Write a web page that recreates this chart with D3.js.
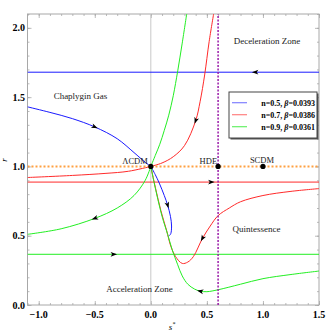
<!DOCTYPE html>
<html>
<head>
<meta charset="utf-8">
<script src="https://cdnjs.cloudflare.com/ajax/libs/d3/7.8.5/d3.min.js"></script>
<style>
  body { margin: 0; background: #fff; }
  svg text { font-family: "Liberation Serif", "Times New Roman", serif; }
</style>
</head>
<body>
<div id="chart"></div>
<script>
// data (s*, r)
var blueUpper = [[-1.1,1.43],[-0.9,1.39],[-0.7,1.345],[-0.5,1.285],[-0.3,1.20],[-0.15,1.10],[-0.05,1.03],[0,1.0]];
var blueLower = [[0,1.0],[0.04,0.94],[0.075,0.88],[0.12,0.79],[0.15,0.72],[0.175,0.64],[0.185,0.57],[0.178,0.515],[0.165,0.50]];
var redLeft = [[-1.1,0.92],[-0.7,0.935],[-0.4,0.95],[-0.2,0.965],[0,1.0]];
var redUpper = [[0,1.0],[0.1,1.025],[0.2,1.07],[0.3,1.15],[0.4,1.33],[0.44,1.47],[0.48,1.66],[0.52,1.9],[0.56,2.1]];
var redLower = [[0,1.0],[0.04,0.85],[0.09,0.68],[0.14,0.54],[0.18,0.42],[0.22,0.35],[0.28,0.30],[0.33,0.31],[0.38,0.35],[0.46,0.48],[0.53,0.57],[0.6,0.645],[0.7,0.70],[0.8,0.745],[1.0,0.79],[1.25,0.82],[1.5,0.84]];
var greenLeft = [[-1.1,0.51],[-0.8,0.55],[-0.5,0.625],[-0.3,0.70],[-0.15,0.79],[-0.05,0.90],[0,1.0]];
var greenUpper = [[0,1.0],[0.04,1.08],[0.08,1.16],[0.12,1.26],[0.16,1.37],[0.2,1.51],[0.24,1.69],[0.28,1.89],[0.32,2.1]];
var greenLower = [[0,1.0],[0.03,0.88],[0.1,0.64],[0.15,0.51],[0.19,0.40],[0.24,0.29],[0.28,0.21],[0.33,0.15],[0.39,0.115],[0.44,0.10],[0.5,0.096],[0.6,0.11],[0.8,0.15],[1.0,0.19],[1.25,0.22],[1.5,0.245]];
var fixedR = [1.68, 0.887, 0.366]; // horizontal lines for blue, red, green

// arrows: [curve, index of point the head sits at, direction (+1 along list, -1 back)]
var arrowsOn = [
  ["blueUpper", 3, 1], ["blueLower", 4, 1],
  ["redUpper", 4, -1], ["redLower", 9, -1],
  ["greenLeft", 2, -1], ["greenLower", 9, -1]
];
var hArrows = [[0.93, 1.68, -1], [0.54, 0.887, 1], [-0.33, 0.366, 1]];

var points = [[0, 1, "ΛCDM"], [0.6, 1, "HDE"], [1.0, 1, "SCDM"]];
var legendRows = [["n=0.5, ", "=0.0393"], ["n=0.7, ", "=0.0386"], ["n=0.9, ", "=0.0361"]];
var xTicks = [-1.0, -0.5, 0.0, 0.5, 1.0, 1.5];
var yTicks = [0.0, 0.5, 1.0, 1.5, 2.0];

var colors = { blue: "#1a1aff", red: "#ff2a2a", green: "#22ee22" };
var legendColors = ["#8080ff", "#ff8080", "#66f066"];

var W = 335, H = 333;
var x = d3.scaleLinear().domain([-1.1, 1.5]).range([27.5, 319]);
var y = d3.scaleLinear().domain([0, 2.1]).range([305, 14]);

var svg = d3.select("#chart").append("svg").attr("width", W).attr("height", H);

svg.append("defs").append("clipPath").attr("id", "clip")
  .append("rect").attr("x", x(-1.1)).attr("y", y(2.1))
  .attr("width", x(1.5) - x(-1.1)).attr("height", y(0) - y(2.1));

// frame + ticks
var frameCol = "#a8a8a8";
var minorX = d3.range(-1.1, 1.51, 0.1).map(function(v) { return Math.round(v * 10) / 10; });
var minorY = d3.range(0, 2.11, 0.1).map(function(v) { return Math.round(v * 10) / 10; });

svg.append("g").attr("transform", "translate(0," + y(0) + ")")
  .call(d3.axisTop(x).tickValues(minorX).tickSize(2).tickFormat(""));
svg.append("g").attr("transform", "translate(0," + y(0) + ")")
  .call(d3.axisTop(x).tickValues(xTicks).tickSize(4).tickFormat(""));
svg.append("g").attr("transform", "translate(0," + y(2.1) + ")")
  .call(d3.axisBottom(x).tickValues(minorX).tickSize(2).tickFormat(""));
svg.append("g").attr("transform", "translate(0," + y(2.1) + ")")
  .call(d3.axisBottom(x).tickValues(xTicks).tickSize(4).tickFormat(""));
svg.append("g").attr("transform", "translate(" + x(-1.1) + ",0)")
  .call(d3.axisRight(y).tickValues(minorY).tickSize(2).tickFormat(""));
svg.append("g").attr("transform", "translate(" + x(-1.1) + ",0)")
  .call(d3.axisRight(y).tickValues(yTicks).tickSize(4).tickFormat(""));
svg.append("g").attr("transform", "translate(" + x(1.5) + ",0)")
  .call(d3.axisLeft(y).tickValues(minorY).tickSize(2).tickFormat(""));
svg.append("g").attr("transform", "translate(" + x(1.5) + ",0)")
  .call(d3.axisLeft(y).tickValues(yTicks).tickSize(4).tickFormat(""));
svg.selectAll(".domain").remove();
svg.selectAll(".tick line").attr("stroke", frameCol).attr("stroke-width", 0.8);

svg.append("rect").attr("x", x(-1.1)).attr("y", y(2.1))
  .attr("width", x(1.5) - x(-1.1)).attr("height", y(0) - y(2.1))
  .attr("fill", "none").attr("stroke", frameCol).attr("stroke-width", 1);

// tick labels
svg.selectAll(".xl").data(xTicks).enter().append("text")
  .attr("x", function(d) { return x(d); }).attr("y", 318)
  .attr("text-anchor", "middle").attr("font-size", 10).attr("font-weight", "bold")
  .text(function(d) { return (d < 0 ? "\u2212" : "") + Math.abs(d).toFixed(1); });
svg.selectAll(".yl").data(yTicks).enter().append("text")
  .attr("x", 25).attr("y", function(d) { return y(d) + 3.5; })
  .attr("text-anchor", "end").attr("font-size", 10).attr("font-weight", "bold")
  .text(function(d) { return d.toFixed(1); });

// axis labels
svg.append("text").attr("transform", "translate(7,160) rotate(-90)")
  .attr("text-anchor", "middle").attr("font-size", 9).attr("font-style", "italic").text("r");
var sl = svg.append("text").attr("x", 172).attr("y", 330).attr("text-anchor", "middle")
  .attr("font-size", 9).attr("font-style", "italic");
sl.append("tspan").text("s");
sl.append("tspan").attr("dy", -4).attr("font-size", 6).text("*");

var plot = svg.append("g").attr("clip-path", "url(#clip)");

// x = 0 reference line
plot.append("line").attr("x1", x(0)).attr("x2", x(0)).attr("y1", y(0)).attr("y2", y(2.1))
  .attr("stroke", "#c8c8c8").attr("stroke-width", 1);

var line = d3.line().x(function(d) { return x(d[0]); }).y(function(d) { return y(d[1]); })
  .curve(d3.curveCatmullRom.alpha(0.5));

var curves = {
  blueUpper: [blueUpper, colors.blue], blueLower: [blueLower, colors.blue],
  redLeft: [redLeft, colors.red], redUpper: [redUpper, colors.red], redLower: [redLower, colors.red],
  greenLeft: [greenLeft, colors.green], greenUpper: [greenUpper, colors.green], greenLower: [greenLower, colors.green]
};
var hCols = [colors.blue, colors.red, colors.green];

fixedR.forEach(function(r, i) {
  plot.append("line").attr("x1", x(-1.1)).attr("x2", x(1.5)).attr("y1", y(r)).attr("y2", y(r))
    .attr("stroke", hCols[i]).attr("stroke-width", 1);
});
Object.keys(curves).forEach(function(k) {
  plot.append("path").datum(curves[k][0]).attr("d", line)
    .attr("fill", "none").attr("stroke", curves[k][1]).attr("stroke-width", 1);
});

// dotted reference lines
plot.append("line").attr("x1", x(-1.1)).attr("x2", x(1.5)).attr("y1", y(1)).attr("y2", y(1))
  .attr("stroke", "#ffa040").attr("stroke-width", 2).attr("stroke-dasharray", "2,2");
plot.append("line").attr("x1", x(0.6)).attr("x2", x(0.6)).attr("y1", y(0)).attr("y2", y(2.1))
  .attr("stroke", "#9a1aa8").attr("stroke-width", 1.5).attr("stroke-dasharray", "2,1.5");

// arrow heads
function arrowHead(px, py, ang) {
  var L = 6.5, Wd = 2.4;
  var pts = [[L / 2, 0], [-L / 2, -Wd], [-L / 4, 0], [-L / 2, Wd]];
  var p = pts.map(function(q) {
    var c = Math.cos(ang), s = Math.sin(ang);
    return [px + q[0] * c - q[1] * s, py + q[0] * s + q[1] * c];
  });
  plot.append("path").attr("d", "M" + p.join("L") + "Z").attr("fill", "#000");
}
arrowsOn.forEach(function(a) {
  var pts = curves[a[0]][0], i = a[1], d = a[2];
  var p0 = pts[i - 1 < 0 ? 0 : i - 1], p1 = pts[i + 1 >= pts.length ? pts.length - 1 : i + 1];
  var dx = x(p1[0]) - x(p0[0]), dy = y(p1[1]) - y(p0[1]);
  var ang = Math.atan2(dy, dx) + (d < 0 ? Math.PI : 0);
  arrowHead(x(pts[i][0]), y(pts[i][1]), ang);
});
hArrows.forEach(function(a) {
  arrowHead(x(a[0]), y(a[1]), a[2] < 0 ? Math.PI : 0);
});

// fixed points
svg.selectAll(".pt").data(points).enter().append("circle")
  .attr("cx", function(d) { return x(d[0]); }).attr("cy", function(d) { return y(d[1]); })
  .attr("r", 2.6).attr("fill", "#000");
svg.append("text").attr("x", x(0) - 3).attr("y", y(1) - 2.5).attr("text-anchor", "end")
  .attr("font-size", 8.5).attr("fill", "#222").text(points[0][2]);
svg.append("text").attr("x", x(0.6) - 1).attr("y", y(1) - 2.5).attr("text-anchor", "end")
  .attr("font-size", 8.5).attr("fill", "#222").text(points[1][2]);
svg.append("text").attr("x", x(1.0) - 1).attr("y", y(1) - 3.5).attr("text-anchor", "middle")
  .attr("font-size", 8.5).attr("fill", "#222").text(points[2][2]);

// region labels
var labels = [["Chaplygin Gas", 80.5, 99], ["Deceleration Zone", 267, 44], ["Quintessence", 256.5, 231.5], ["Acceleration Zone", 139.5, 292]];
labels.forEach(function(l) {
  svg.append("text").attr("x", l[1]).attr("y", l[2]).attr("text-anchor", "middle")
    .attr("font-size", 9).attr("fill", "#222").text(l[0]);
});

// legend
var lg = svg.append("g");
lg.append("rect").attr("x", 230.5).attr("y", 93.5).attr("width", 88).attr("height", 46).attr("fill", "#555");
lg.append("rect").attr("x", 229).attr("y", 92).attr("width", 88).attr("height", 46)
  .attr("fill", "#fff").attr("stroke", "#444").attr("stroke-width", 1);
legendRows.forEach(function(r, i) {
  var yy = 102.7 + i * 12;
  lg.append("line").attr("x1", 232).attr("x2", 247).attr("y1", yy).attr("y2", yy)
    .attr("stroke", legendColors[i]).attr("stroke-width", 1.2);
  var t = lg.append("text").attr("x", 315).attr("y", yy + 3).attr("text-anchor", "end")
    .attr("font-size", 8).attr("font-weight", "bold");
  t.append("tspan").text(r[0]);
  t.append("tspan").attr("font-style", "italic").text("\u03b2");
  t.append("tspan").text(r[1]);
});
</script>
</body>
</html>
